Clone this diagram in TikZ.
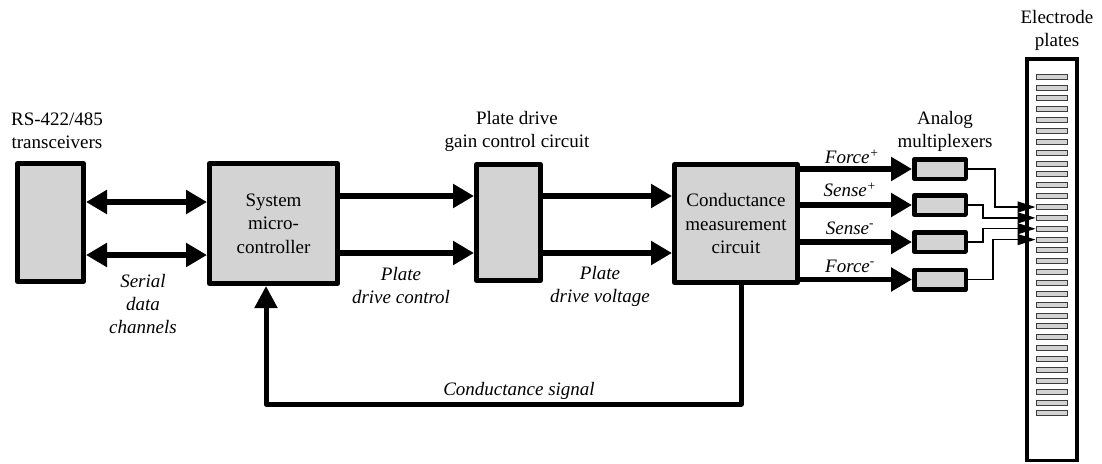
\documentclass[tikz,border=0pt]{standalone}
\usepackage{fontspec}
\setmainfont{Liberation Serif}
\usetikzlibrary{arrows.meta,calc}
\definecolor{boxgray}{RGB}{211,211,211}
\definecolor{platebd}{RGB}{60,60,60}
\tikzset{
  blk/.style={draw, line width=5pt, fill=boxgray, inner sep=0pt, line join=round, align=center, font=\fontsize{19}{23.5}\selectfont},
  muxbox/.style={draw, line width=4.5pt, fill=boxgray, inner sep=0pt, minimum width=51.5pt, minimum height=19.5pt, line join=round},
  plate/.style={draw=platebd, line width=1pt, fill=boxgray, inner sep=0pt, minimum width=31pt, minimum height=5pt},
  lbl/.style={align=center, font=\fontsize{19}{23}\selectfont, inner sep=0pt},
  ilbl/.style={align=center, font=\fontsize{19}{23}\selectfont\itshape, inner sep=0pt},
  conn/.style={line width=5.5pt, line join=round, -{Triangle[length=21pt,width=23pt]}},
  dconn/.style={line width=5.5pt, {Triangle[length=21pt,width=23pt]}-{Triangle[length=21pt,width=23pt]}},
  fbline/.style={line width=5pt, line join=round, -{Triangle[length=22pt,width=22pt]}},
  thinarrow/.style={line width=1.4pt, -{Triangle[length=18pt,width=11pt]}}
}
\begin{document}
\begin{tikzpicture}[x=1pt,y=-1pt]
\useasboundingbox (0,0) rectangle (1102,463);
% main blocks
\node[blk, minimum width=66pt, minimum height=118pt] (trans) at (50.5,222.5) {};
\node[blk, minimum width=128pt, minimum height=120pt] (micro) at (273.5,223.5) {System\\micro-\\controller};
\node[blk, minimum width=64pt, minimum height=116pt] (gain) at (508.5,222.5) {};
\node[blk, minimum width=123pt, minimum height=118pt] (cond) at (736,223.5) {Conductance\\measurement\\circuit};
% multiplexers
\node[muxbox] (m1) at (940,169) {};
\node[muxbox] (m2) at (940,205) {};
\node[muxbox] (m3) at (940,242) {};
\node[muxbox] (m4) at (940,279.5) {};
% electrode column
\node[draw, line width=3.5pt, inner sep=0pt, minimum width=50pt, minimum height=401.5pt] (elec) at (1052,259.5) {};
\foreach \i in {0,...,31}{
  \node[plate] (p\i) at (1051.5,{76.7+10.86*\i}) {};
}
% titles
\node[lbl] (tTrans) at (57,131) {RS-422/485\\transceivers};
\node[lbl] (tGain) at (517,131) {Plate drive\\gain control circuit};
\node[lbl] (tMux) at (945,131) {Analog\\multiplexers};
\node[lbl] (tElec) at (1057,30) {Electrode\\plates};
% rows
\coordinate (s1) at (0,202);
\coordinate (s2) at (0,255);
\coordinate (r1) at (0,196);
\coordinate (r2) at (0,253);
% serial links
\draw[dconn] (trans.east |- s1) -- (micro.west |- s1);
\draw[dconn] (trans.east |- s2) -- (micro.west |- s2);
% micro -> gain -> cond
\draw[conn] (micro.east |- r1) -- (gain.west |- r1);
\draw[conn] (micro.east |- r2) -- (gain.west |- r2);
\draw[conn] (gain.east |- r1) -- (cond.west |- r1);
\draw[conn] (gain.east |- r2) -- (cond.west |- r2);
% cond -> mux
\draw[conn] (cond.east |- m1.west) -- (m1.west);
\draw[conn] (cond.east |- m2.west) -- (m2.west);
\draw[conn] (cond.east |- m3.west) -- (m3.west);
\draw[conn] (cond.east |- m4.west) -- (m4.west);
% mux -> plates
\draw[thinarrow] (m1.east) -- ++(27,0) |- (p12.west);
\draw[thinarrow] (m2.east) -- ++(15,0) |- (p13.west);
\draw[thinarrow] (m3.east) -- ++(15,0) |- (p14.west);
\draw[thinarrow] (m4.east) -- ++(25,0) |- (p15.west);
% feedback
\coordinate (fbR) at (741,404);
\coordinate (fbL) at (266,404);
\draw[fbline] (cond.south -| fbR) -- (fbR) -- (fbL) -- (micro.south -| fbL);
% italic labels
\node[ilbl] (lSerial) at (143,304) {Serial\\data\\channels};
\node[ilbl] (lPdc) at (401,286) {Plate\\drive control};
\node[ilbl] (lPdv) at (600,286) {Plate\\drive voltage};
\node[ilbl] (lF1) at (852,157) {Force\textsuperscript{+}};
\node[ilbl] (lS1) at (850,190) {Sense\textsuperscript{+}};
\node[ilbl] (lS2) at (850,228) {Sense\textsuperscript{-}};
\node[ilbl] (lF2) at (850,266) {Force\textsuperscript{-}};
\node[ilbl] (lCs) at (519,391) {Conductance signal};
\end{tikzpicture}
\end{document}
